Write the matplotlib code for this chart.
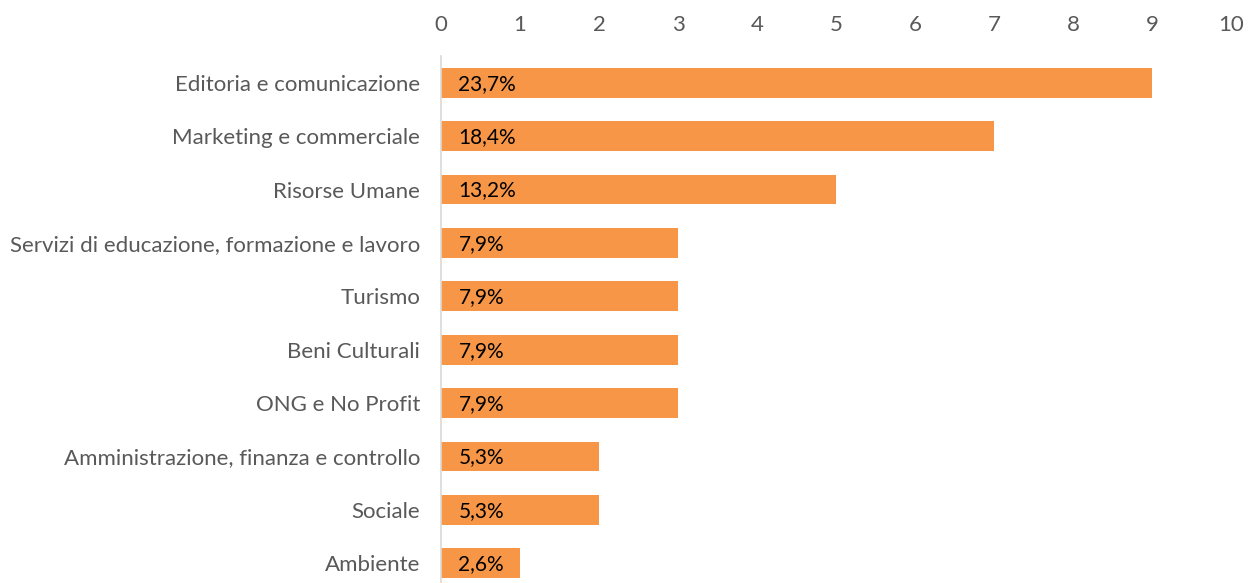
import matplotlib
matplotlib.use("Agg")
import matplotlib.pyplot as plt

categories = ["Editoria e comunicazione", "Marketing e commerciale", "Risorse Umane",
              "Servizi di educazione, formazione e lavoro", "Turismo", "Beni Culturali",
              "ONG e No Profit", "Amministrazione, finanza e controllo", "Sociale", "Ambiente"]
values = [9, 7, 5, 3, 3, 3, 3, 2, 2, 1]
labels = ["23,7%", "18,4%", "13,2%", "7,9%", "7,9%", "7,9%", "7,9%", "5,3%", "5,3%", "2,6%"]
xticks = list(range(0, 11))

plt.rcParams['font.family'] = ['Lato', 'DejaVu Sans']

fig = plt.figure(figsize=(12.5, 5.83), dpi=100)
ax = fig.add_axes([441/1250, 1 - 590/583, (1231-441)/1250, (590-56)/583])

y = list(range(len(categories)))
ax.barh(y, values, height=0.56, color="#F79646")
for yi, lab in zip(y, labels):
    ax.text(0.22, yi + 0.02, lab, va="center", ha="left", fontsize=15, color="black")

ax.set_xlim(0, 10)
ax.set_ylim(9.5, -0.5)
ax.set_yticks(y)
ax.set_yticklabels(categories, fontsize=16, color="#595959")
ax.set_xticks(xticks)
ax.set_xticklabels([str(t) for t in xticks], fontsize=16, color="#595959")
ax.xaxis.tick_top()
ax.tick_params(axis="both", length=0)
ax.tick_params(axis="x", pad=15)
ax.tick_params(axis="y", pad=15)
for s in ["top", "right", "bottom"]:
    ax.spines[s].set_visible(False)
ax.spines["left"].set_color("#D9D9D9")
ax.spines["left"].set_linewidth(1.2)

fig.savefig("out.png", dpi=100)
